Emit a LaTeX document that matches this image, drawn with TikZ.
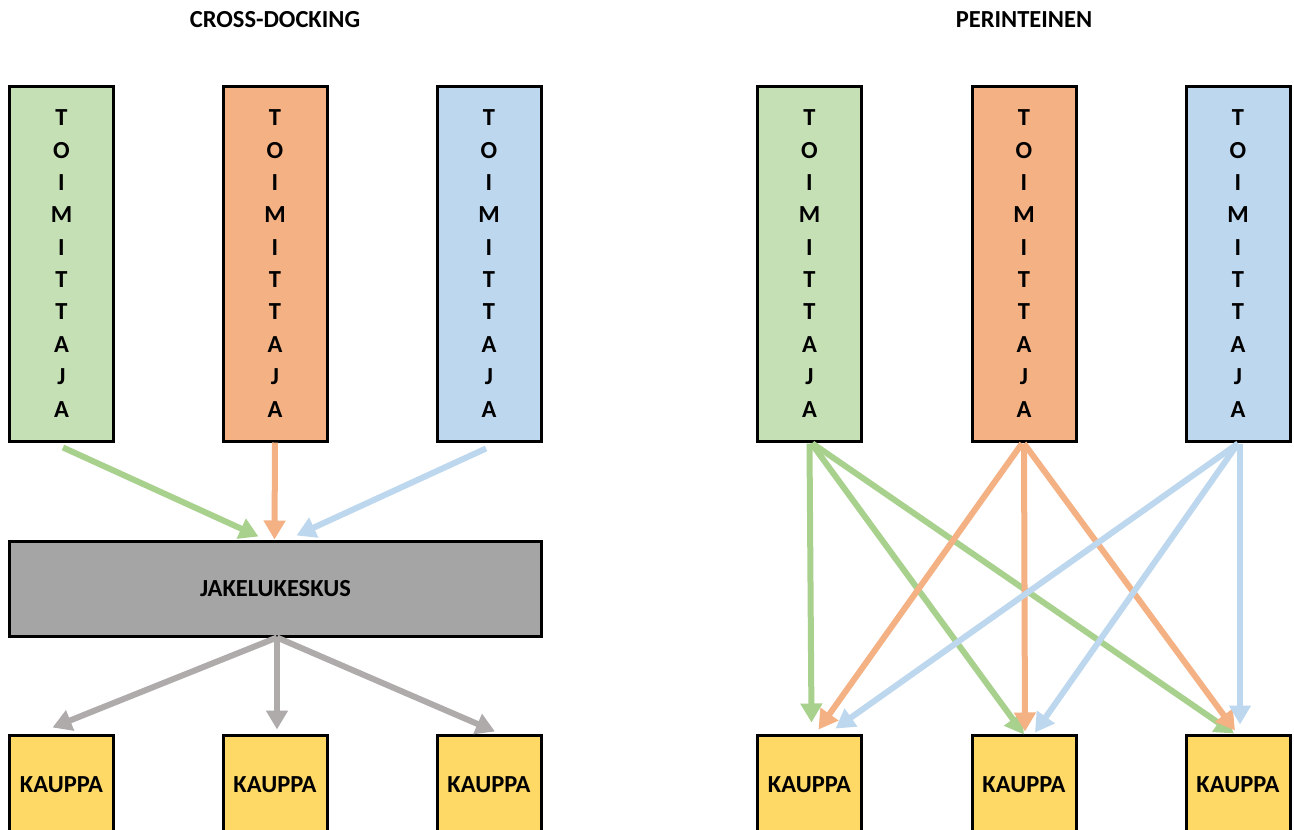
\documentclass[tikz,border=0pt]{standalone}
\usepackage{fontspec}
\setmainfont{Carlito}
\usetikzlibrary{arrows.meta}
\definecolor{supgreen}{HTML}{C5E0B4}
\definecolor{suporange}{HTML}{F4B183}
\definecolor{supblue}{HTML}{BDD7EE}
\definecolor{hubgray}{HTML}{A5A5A5}
\definecolor{shopyellow}{HTML}{FFD966}
\definecolor{flowgreen}{HTML}{A9D18E}
\definecolor{floworange}{HTML}{F4B183}
\definecolor{flowblue}{HTML}{BDD7EE}
\definecolor{flowgray}{HTML}{AFABAB}
\tikzset{
  lbl/.style={font=\fontsize{24.5}{29}\selectfont\bfseries},
  supplier/.style={draw=black, line width=3pt, inner sep=0pt,
    minimum width=104pt, minimum height=355pt, align=center,
    font=\fontsize{24.5}{32.35}\selectfont\bfseries},
  hub/.style={draw=black, line width=3pt, fill=hubgray, inner sep=0pt,
    minimum width=532pt, minimum height=95pt, lbl},
  shop/.style={draw=black, line width=3pt, fill=shopyellow, inner sep=0pt,
    minimum width=104pt, minimum height=100pt, lbl},
  flow/.style={line width=6pt, -{Triangle[length=19pt,width=21pt]}},
}
\begin{document}
\begin{tikzpicture}[x=1pt, y=-1pt]
\clip (0,0) rectangle (1294,830);
\fill[white] (0,0) rectangle (1294,830);

% headings
\node[lbl] (t1) at (275,20) {CROSS-DOCKING};
\node[lbl] (t2) at (1024,20) {PERINTEINEN};

% suppliers, letters stacked vertically
\def\toim{T\\O\\I\\M\\I\\T\\T\\A\\J\\A}
\node[supplier, fill=supgreen]  (g1) at (61.5,263.5) {\toim};
\node[supplier, fill=suporange] (o1) at (275,263.5)  {\toim};
\node[supplier, fill=supblue]   (b1) at (489,263.5)  {\toim};
\node[supplier, fill=supgreen]  (g2) at (809.5,263.5) {\toim};
\node[supplier, fill=suporange] (o2) at (1024,263.5)  {\toim};
\node[supplier, fill=supblue]   (b2) at (1238,263.5)  {\toim};

% distribution centre
\node[hub] (jk) at (275.5,588.5) {JAKELUKESKUS};

% shops
\node[shop] (k1) at (61.5,785)  {KAUPPA};
\node[shop] (k2) at (275,785)   {KAUPPA};
\node[shop] (k3) at (489,785)   {KAUPPA};
\node[shop] (k4) at (809.5,785) {KAUPPA};
\node[shop] (k5) at (1024,785)  {KAUPPA};
\node[shop] (k6) at (1238,785)  {KAUPPA};

% cross-docking flows
\draw[flow, flowgreen]  ([xshift=1.5pt,yshift=-5pt]g1.south) -- ([xshift=-17pt,yshift=3pt]jk.north);
\draw[flow, floworange] (o1.south) -- ([xshift=-1pt]jk.north);
\draw[flow, flowblue]   ([xshift=-3pt,yshift=-6pt]b1.south) -- ([xshift=21pt,yshift=4pt]jk.north);
\draw[flow, flowgray] ([xshift=1.5pt]jk.south) -- ([xshift=-9pt,yshift=6pt]k1.north);
\draw[flow, flowgray] ([xshift=1.5pt]jk.south) -- ([xshift=2pt,yshift=4pt]k2.north);
\draw[flow, flowgray] ([xshift=1.5pt]jk.south) -- ([xshift=6pt,yshift=2pt]k3.north);

% traditional flows
\draw[flow, flowgreen] ([yshift=-1pt]g2.south) -- ([xshift=2pt,yshift=11pt]k4.north);
\draw[flow, flowgreen] ([xshift=2pt,yshift=-1pt]g2.south) -- ([yshift=-1pt]k5.north);
\draw[flow, flowgreen] ([xshift=3pt,yshift=-1pt]g2.south) -- ([xshift=-4pt]k6.north);
\draw[flow, floworange] ([xshift=-2pt,yshift=-1pt]o2.south) -- ([xshift=9pt,yshift=4pt]k4.north);
\draw[flow, floworange] ([yshift=-1pt]o2.south) -- ([xshift=1pt,yshift=2pt]k5.north);
\draw[flow, floworange] ([yshift=-1pt]o2.south) -- ([xshift=-3pt,yshift=3pt]k6.north);
\draw[flow, flowblue] ([yshift=-1pt]b2.south) -- ([xshift=26pt,yshift=5pt]k4.north);
\draw[flow, flowblue] ([yshift=-1pt]b2.south) -- ([xshift=11pt,yshift=1pt]k5.north);
\draw[flow, flowblue] ([xshift=2pt,yshift=-1pt]b2.south) -- ([xshift=2pt,yshift=9pt]k6.north);
\end{tikzpicture}
\end{document}
